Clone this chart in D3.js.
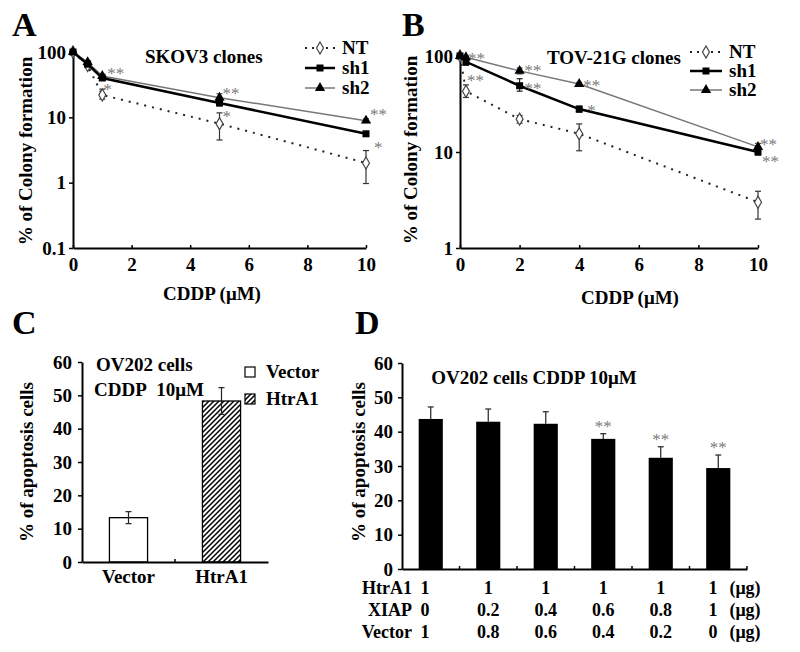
<!DOCTYPE html>
<html><head><meta charset="utf-8">
<script src="https://cdn.jsdelivr.net/npm/d3@7"></script>
<style>
body{margin:0;background:#fff;}
svg text{font-family:"Liberation Serif","DejaVu Serif",serif !important;font-weight:bold;fill:#000;}
</style></head><body>
<svg id="chart" width="800" height="652"></svg>
<script>
// ---------- DATA ----------
// Panel A: SKOV3 clones (colony formation %, log scale)
const A_dose = [0, 0.5, 1, 5, 10];
const A_NT = [100, 62, 22, 8, 2.0];
const A_NT_hi = [100, 62, 27, 11.7, 3.1];
const A_NT_lo = [100, 62, 19, 4.5, 0.97];
const A_sh1 = [100, 65, 40, 16.6, 5.6];
const A_sh1_hi = [100, 68, 43, 18.5, 6.0];
const A_sh1_lo = [100, 62, 37, 15.0, 5.2];
const A_sh2 = [100, 70, 43, 20, 8.9];
const A_sh2_hi = [100, 74, 46, 23, 9.5];
const A_sh2_lo = [100, 66, 40, 17.5, 8.3];
const A_yTicks = [0.1, 1, 10, 100];
// Panel B: TOV-21G clones
const B_dose = [0, 0.2, 2, 4, 10];
const B_NT = [100, 43, 22, 15.5, 3.0];
const B_NT_hi = [100, 50, 24, 19.6, 3.9];
const B_NT_lo = [100, 37, 20, 10.3, 2.0];
const B_sh1 = [100, 87, 49, 28, 10];
const B_sh1_hi = [100, 94, 58, 30, 10.8];
const B_sh1_lo = [100, 80, 43, 26, 9.3];
const B_sh2 = [100, 97, 70, 51, 11.3];
const B_sh2_hi = [100, 100, 75, 53, 12.3];
const B_sh2_lo = [100, 94, 65, 49, 10.5];
const B_yTicks = [1, 10, 100];
const doseTicks = [0, 2, 4, 6, 8, 10];
const legendLabels = ["NT", "sh1", "sh2"];
// significance marks: [dose index, series, text]
const A_sig = [[2, "sh2", "**"], [2, "sh1", "*"], [3, "sh2", "**"], [3, "sh1", "*"], [4, "sh2", "**"], [4, "sh1", "*"]];
const B_sig = [[1, "sh2", "**"], [1, "sh1", "**"], [2, "sh2", "**"], [2, "sh1", "**"], [3, "sh2", "**"], [3, "sh1", "*"], [4, "sh2", "**"], [4, "sh1", "**"]];
// Panel C
const C_cats = ["Vector", "HtrA1"];
const C_vals = [13.3, 48.3];
const C_err = [1.8, 4.0];
// Panel D
const D_vals = [43.7, 42.9, 42.3, 37.9, 32.4, 29.4];
const D_err = [3.5, 3.7, 3.5, 1.5, 3.2, 3.8];
const D_sig = ["", "", "", "**", "**", "**"];
const D_rowNames = ["HtrA1", "XIAP", "Vector"];
const D_HtrA1 = ["1", "1", "1", "1", "1", "1"];
const D_XIAP = ["0", "0.2", "0.4", "0.6", "0.8", "1"];
const D_Vector = ["1", "0.8", "0.6", "0.4", "0.2", "0"];
const apoTicks = [0, 10, 20, 30, 40, 50, 60];

// ---------- DRAW ----------
const FONT = '"Liberation Serif","DejaVu Serif",serif';
const svg = d3.select("#chart");
const defs = svg.append("defs");
defs.append("pattern").attr("id", "hatch").attr("patternUnits", "userSpaceOnUse")
  .attr("width", 5).attr("height", 5)
  .append("path").attr("d", "M-1,1 l2,-2 M0,5 l5,-5 M4,6 l2,-2")
  .attr("stroke", "#000").attr("stroke-width", 1.5);

function styleAxis(g, fs) {
  g.attr("font-family", FONT);
  g.selectAll("path.domain").attr("stroke", "#000").attr("stroke-width", 2);
  g.selectAll(".tick line").attr("stroke", "#000").attr("stroke-width", 1.5);
  g.selectAll("text").attr("font-size", fs).attr("font-family", FONT).attr("font-weight", "bold").attr("fill", "#000");
}
function txt(x, y, s, fs, anchor) {
  return svg.append("text").attr("x", x).attr("y", y).attr("font-size", fs).attr("font-family", FONT)
    .attr("text-anchor", anchor || "start").text(s);
}
function vtxt(cx, cy, s, fs) {
  return svg.append("text").attr("transform", `translate(${cx},${cy}) rotate(-90)`).attr("font-family", FONT)
    .attr("font-size", fs).attr("text-anchor", "middle").attr("dy", "0.35em").text(s);
}
function star(x, y, s, anchor) {
  return svg.append("text").attr("x", x).attr("y", y).attr("font-size", 17).attr("font-family", FONT)
    .attr("text-anchor", anchor || "start").style("font-weight", "normal").style("fill", "#7a7a7a").text(s);
}
function errBar(xx, y1, y2, col) {
  if (Math.abs(y1 - y2) < 1) return;
  const g = svg.append("g").attr("stroke", col).attr("stroke-width", 1.2);
  g.append("line").attr("x1", xx).attr("x2", xx).attr("y1", y1).attr("y2", y2);
  g.append("line").attr("x1", xx - 3).attr("x2", xx + 3).attr("y1", y1).attr("y2", y1);
  g.append("line").attr("x1", xx - 3).attr("x2", xx + 3).attr("y1", y2).attr("y2", y2);
}

function linePanel(o) {
  const { dose, nt, ntHi, ntLo, sh1, sh1Hi, sh1Lo, sh2, sh2Hi, sh2Lo, x, y, yTicks, sig, sigOff, legend } = o;
  const x0 = x.range()[0], yb = y.range()[0];
  const gy = svg.append("g").attr("transform", `translate(${x0},0)`)
    .call(d3.axisLeft(y).tickValues(yTicks).tickFormat(d3.format("~g")).tickSizeInner(4).tickSizeOuter(0).tickPadding(3));
  styleAxis(gy, 19);
  const gx = svg.append("g").attr("transform", `translate(0,${yb})`)
    .call(d3.axisBottom(x).tickValues(doseTicks).tickSizeInner(-3).tickSizeOuter(0).tickPadding(10));
  styleAxis(gx, 19);

  const line = d3.line().x((d, i) => x(dose[i])).y(d => y(d));
  svg.append("path").datum(nt).attr("d", line).attr("fill", "none").attr("stroke", "#222")
    .attr("stroke-width", 2).attr("stroke-dasharray", "2,6");
  svg.append("path").datum(sh2).attr("d", line).attr("fill", "none").attr("stroke", "#777").attr("stroke-width", 1.5);
  svg.append("path").datum(sh1).attr("d", line).attr("fill", "none").attr("stroke", "#000").attr("stroke-width", 2.5);

  dose.forEach((d, i) => {
    errBar(x(d), y(ntHi[i]), y(ntLo[i]), "#333");
    errBar(x(d), y(sh2Hi[i]), y(sh2Lo[i]), "#555");
    errBar(x(d), y(sh1Hi[i]), y(sh1Lo[i]), "#222");
  });
  const dia = d3.symbol(d3.symbolDiamond).size(42)();
  const tri = d3.symbol(d3.symbolTriangle).size(46)();
  svg.selectAll(null).data(nt).join("path").attr("d", dia)
    .attr("transform", (d, i) => `translate(${x(dose[i])},${y(d)})`)
    .attr("fill", "#fff").attr("stroke", "#444").attr("stroke-width", 1.2);
  svg.selectAll(null).data(sh2).join("path").attr("d", tri)
    .attr("transform", (d, i) => `translate(${x(dose[i])},${y(d)})`).attr("fill", "#000");
  svg.selectAll(null).data(sh1).join("rect")
    .attr("x", (d, i) => x(dose[i]) - 3.5).attr("y", d => y(d) - 3.5)
    .attr("width", 7).attr("height", 7).attr("fill", "#000");

  sig.forEach((s, k) => {
    const [i, ser, t] = s;
    const v = ser === "sh1" ? sh1[i] : sh2[i];
    const off = sigOff[k];
    star(x(dose[i]) + off[0], y(v) + off[1], t);
  });

  const L = legend;
  legendLabels.forEach((lab, k) => {
    const cy = L.y + k * L.dy;
    const ln = svg.append("line").attr("x1", L.x).attr("x2", L.x + L.w).attr("y1", cy).attr("y2", cy);
    const mx = L.x + L.w / 2;
    if (k === 0) {
      ln.attr("stroke", "#222").attr("stroke-width", 2).attr("stroke-dasharray", "2,5");
      svg.append("path").attr("d", dia).attr("transform", `translate(${mx},${cy})`)
        .attr("fill", "#fff").attr("stroke", "#444").attr("stroke-width", 1.2);
    } else if (k === 1) {
      ln.attr("stroke", "#000").attr("stroke-width", 2.5);
      svg.append("rect").attr("x", mx - 3.5).attr("y", cy - 3.5).attr("width", 7).attr("height", 7).attr("fill", "#000");
    } else {
      ln.attr("stroke", "#777").attr("stroke-width", 1.5);
      svg.append("path").attr("d", tri).attr("transform", `translate(${mx},${cy})`).attr("fill", "#000");
    }
    txt(L.x + L.w + 7, cy + 6, lab, 19);
  });
}

// Panel A
const xA = d3.scaleLinear().domain([0, 10]).range([73, 366]);
const yA = d3.scaleLog().domain([0.1, 100]).range([248, 52]);
linePanel({
  dose: A_dose, nt: A_NT, ntHi: A_NT_hi, ntLo: A_NT_lo,
  sh1: A_sh1, sh1Hi: A_sh1_hi, sh1Lo: A_sh1_lo, sh2: A_sh2, sh2Hi: A_sh2_hi, sh2Lo: A_sh2_lo,
  x: xA, y: yA, yTicks: A_yTicks, sig: A_sig,
  sigOff: [[5, 3], [1, 17], [3, 1], [3, 19], [4, -1], [8, 19]],
  legend: { x: 305, y: 48, dy: 20, w: 30 }
});
txt(12, 36, "A", 34);
txt(145, 63, "SKOV3 clones", 19);
txt(212, 300, "CDDP (μM)", 19, "middle");
vtxt(25, 151, "% of Colony formation", 19);

// Panel B
const xB = d3.scaleLinear().domain([0, 10]).range([460, 758]);
const yB = d3.scaleLog().domain([1, 100]).range([248, 56]);
linePanel({
  dose: B_dose, nt: B_NT, ntHi: B_NT_hi, ntLo: B_NT_lo,
  sh1: B_sh1, sh1Hi: B_sh1_hi, sh1Lo: B_sh1_lo, sh2: B_sh2, sh2Hi: B_sh2_hi, sh2Lo: B_sh2_lo,
  x: xB, y: yB, yTicks: B_yTicks, sig: B_sig,
  sigOff: [[2, 7], [1, 24], [5, 5], [5, 8], [4, 7], [8, 7], [2, 3], [4, 15]],
  legend: { x: 690, y: 52, dy: 19, w: 32 }
});
txt(402, 36, "B", 34);
txt(547, 64, "TOV-21G clones", 19);
txt(630, 304, "CDDP (μM)", 19, "middle");
vtxt(410, 150, "% of Colony formation", 19);

// Panel C
const xC = d3.scaleBand().domain(C_cats).range([82, 268]).paddingInner(0.59).paddingOuter(0.295);
const yC = d3.scaleLinear().domain([0, 60]).range([562, 362]);
const gyC = svg.append("g").attr("transform", "translate(82,0)")
  .call(d3.axisLeft(yC).tickValues(apoTicks).tickSizeInner(4).tickSizeOuter(0).tickPadding(6));
styleAxis(gyC, 19);
svg.selectAll(null).data(C_vals).join("rect")
  .attr("x", (d, i) => xC(C_cats[i])).attr("y", d => yC(d))
  .attr("width", xC.bandwidth()).attr("height", d => yC(0) - yC(d))
  .attr("fill", (d, i) => i === 0 ? "#fff" : "url(#hatch)").attr("stroke", "#000").attr("stroke-width", 1.3);
C_vals.forEach((v, i) => {
  const cx = xC(C_cats[i]) + xC.bandwidth() / 2;
  errBar(cx, yC(v + C_err[i]), yC(v - C_err[i]), "#222");
});
const gxC = svg.append("g").attr("transform", "translate(0,562)")
  .call(d3.axisBottom(xC).tickSize(0).tickSizeOuter(0).tickPadding(8));
styleAxis(gxC, 19);
svg.append("line").attr("x1", 175).attr("x2", 175).attr("y1", 562).attr("y2", 559).attr("stroke", "#000").attr("stroke-width", 1.5);
txt(12, 334, "C", 34);
txt(96, 371, "OV202 cells", 19);
txt(94, 396, "CDDP\u00a0\u00a010μM", 19);
vtxt(26, 462, "% of apoptosis cells", 19);
C_cats.forEach((c, k) => {
  const cy = 372 + k * 27;
  svg.append("rect").attr("x", 245).attr("y", cy - 5).attr("width", 10).attr("height", 10)
    .attr("fill", k === 0 ? "#fff" : "url(#hatch)").attr("stroke", "#000").attr("stroke-width", 1.2);
  txt(266, cy + 6, c, 19);
});

// Panel D
const D_idx = d3.range(D_vals.length);
const xD = d3.scaleBand().domain(D_idx).range([402, 747]).paddingInner(0.58).paddingOuter(0.29);
const yD = d3.scaleLinear().domain([0, 60]).range([569, 363]);
const gyD = svg.append("g").attr("transform", "translate(402,0)")
  .call(d3.axisLeft(yD).tickValues(apoTicks).tickSizeInner(4).tickSizeOuter(0).tickPadding(5));
styleAxis(gyD, 19);
svg.selectAll(null).data(D_vals).join("rect")
  .attr("x", (d, i) => xD(i)).attr("y", d => yD(d))
  .attr("width", xD.bandwidth()).attr("height", d => yD(0) - yD(d)).attr("fill", "#000");
D_vals.forEach((v, i) => {
  const cx = xD(i) + xD.bandwidth() / 2;
  const g = svg.append("g").attr("stroke", "#222").attr("stroke-width", 1.2);
  g.append("line").attr("x1", cx).attr("x2", cx).attr("y1", yD(v + D_err[i])).attr("y2", yD(v));
  g.append("line").attr("x1", cx - 3).attr("x2", cx + 3).attr("y1", yD(v + D_err[i])).attr("y2", yD(v + D_err[i]));
  if (D_sig[i]) star(cx, yD(v + D_err[i]) - 2, D_sig[i], "middle");
});
const gxD = svg.append("g").attr("transform", "translate(0,569)")
  .call(d3.axisBottom(xD).tickSize(0).tickSizeOuter(0).tickFormat(""));
styleAxis(gxD, 18);
D_idx.slice(1).forEach(i => {
  const tx = xD(i) + xD.bandwidth() / 2 - xD.step() / 2;
  svg.append("line").attr("x1", tx).attr("x2", tx).attr("y1", 569).attr("y2", 566).attr("stroke", "#000").attr("stroke-width", 1.5);
});
svg.append("line").attr("x1", 747).attr("x2", 747).attr("y1", 569).attr("y2", 566).attr("stroke", "#000").attr("stroke-width", 1.5);
txt(355, 334, "D", 34);
txt(534, 384, "OV202 cells CDDP 10μM", 19, "middle");
vtxt(358, 462, "% of apoptosis cells", 19);
const D_rows = [D_HtrA1, D_XIAP, D_Vector];
D_rows.forEach((row, r) => {
  const by = 594 + r * 22;
  txt(412, by, D_rowNames[r], 18, "end");
  row.forEach((s, i) => {
    let cx = xD(i) + xD.bandwidth() / 2;
    if (i === 0) cx = 425;
    if (i === 5) cx = 713;
    txt(cx, by, s, 18, "middle");
  });
  txt(745, by, "(μg)", 18, "middle");
});
</script>
</body></html>
